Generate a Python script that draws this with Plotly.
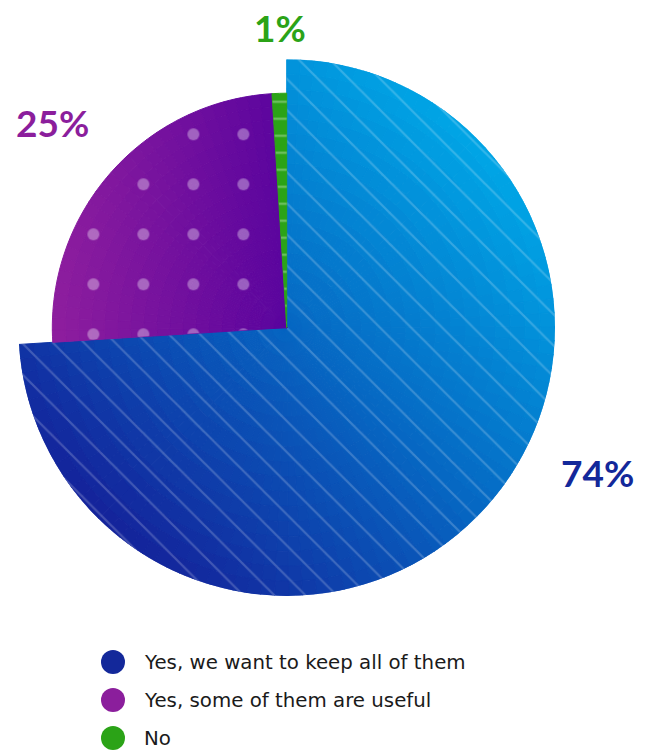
import numpy as np
import plotly.graph_objects as go

# ---------------- data ----------------
categories = ["Yes, we want to keep all of them", "Yes, some of them are useful", "No"]
values = [74, 25, 1]
label_texts = [f"{v}%" for v in values]

# ---------------- style ----------------
W, H = 652, 751
radii = [1.0, 0.8736, 0.8736]
main_colors = ["#13289A", "#8B1E9C", "#2BA317"]
grad_stops = [
    [(-1.0, "#14229A"), (0.0, "#0666C2"), (1.0, "#00A6E6")],
    [(0.0, "#8E1E9E"), (1.0, "#5A049E")],
    [(0.0, "#2BA317"), (1.0, "#2BA317")],
]
patterns = [
    dict(shape="\\", size=22, solidity=0.1, fgopacity=0.2),
    dict(shape=".", size=50, solidity=0.045, fgopacity=0.35),
    dict(shape="-", size=17, solidity=0.12, fgopacity=0.35),
]
label_pos = [(597, 472), (52, 122), (280, 27)]


def hex2rgb(h):
    h = h.lstrip("#")
    return np.array([int(h[i:i + 2], 16) for i in (0, 2, 4)], dtype=float)


def grad(stops, t):
    ts = [s[0] for s in stops]
    t = min(max(t, ts[0]), ts[-1])
    for (t0, c0), (t1, c1) in zip(stops[:-1], stops[1:]):
        if t <= t1:
            f = 0 if t1 == t0 else (t - t0) / (t1 - t0)
            c = hex2rgb(c0) * (1 - f) + hex2rgb(c1) * f
            return "rgb(%d,%d,%d)" % tuple(np.round(c))
    c = hex2rgb(stops[-1][1])
    return "rgb(%d,%d,%d)" % tuple(c)


total = sum(values)
widths = [v / total * 360 for v in values]
starts = list(np.cumsum([0] + widths[:-1]))

fig = go.Figure()

for i, (cat, v) in enumerate(zip(categories, values)):
    R = radii[i]
    na = max(1, int(round(widths[i] / 3)))
    nr = 18
    dth = widths[i] / na
    thetas, bases, rs, ws, cols = [], [], [], [], []
    for j in range(na):
        th = starts[i] + (j + 0.5) * dth
        for k in range(nr):
            r0 = k * R / nr
            r1 = (k + 1) * R / nr
            rc = (r0 + r1) / 2
            x = rc * np.sin(np.radians(th))
            y = rc * np.cos(np.radians(th))
            if i == 0:
                t = (x + y) / np.sqrt(2)
            elif i == 1:
                t = (x + R) / R
            else:
                t = 0
            thetas.append(th)
            bases.append(r0)
            rs.append(r1 - r0)
            ws.append(dth)
            cols.append(grad(grad_stops[i], t))
    fig.add_trace(go.Barpolar(
        r=rs, base=bases, theta=thetas, width=ws,
        marker=dict(color=cols, line=dict(color=cols, width=1)),
        name=cat, hoverinfo="skip", showlegend=False,
    ))
    p = patterns[i]
    fig.add_trace(go.Barpolar(
        r=[R], base=[0], theta=[starts[i] + widths[i] / 2], width=[widths[i]],
        marker=dict(
            color="rgba(0,0,0,0)", line=dict(width=0),
            pattern=dict(shape=p["shape"], size=p["size"], solidity=p["solidity"],
                         fgcolor="white", fgopacity=p["fgopacity"],
                         bgcolor="rgba(0,0,0,0)", fillmode="overlay"),
        ),
        hoverinfo="skip", showlegend=False,
    ))

# percentage labels
for i, txt in enumerate(label_texts):
    px, py = label_pos[i]
    fig.add_annotation(
        x=px / W, y=1 - py / H, xref="paper", yref="paper",
        text=txt, showarrow=False, xanchor="center", yanchor="middle",
        font=dict(family="Lato", size=37, color=main_colors[i], weight="bold"),
    )

# legend (manual)
leg_x, leg_y0, leg_dy, dot_r = 113, 662, 38, 12
for i, cat in enumerate(categories):
    cy = leg_y0 + i * leg_dy
    fig.add_shape(
        type="circle", xref="paper", yref="paper",
        x0=(leg_x - dot_r) / W, x1=(leg_x + dot_r) / W,
        y0=1 - (cy + dot_r) / H, y1=1 - (cy - dot_r) / H,
        fillcolor=main_colors[i], line=dict(width=0),
    )
    fig.add_annotation(
        x=142 / W, y=1 - cy / H, xref="paper", yref="paper",
        text=cat, showarrow=False, xanchor="left", yanchor="middle",
        font=dict(family="DejaVu Sans", size=19.8, color="#1a1a1a"),
    )

cx, cy0, Rpx = 286.7, 327.6, 268.3
fig.update_layout(
    width=W, height=H,
    margin=dict(l=0, r=0, t=0, b=0),
    paper_bgcolor="white", plot_bgcolor="white",
    showlegend=False,
    polar=dict(
        domain=dict(x=[(cx - Rpx) / W, (cx + Rpx) / W], y=[1 - (cy0 + Rpx) / H, 1 - (cy0 - Rpx) / H]),
        bgcolor="rgba(0,0,0,0)",
        barmode="overlay", bargap=0,
        radialaxis=dict(range=[0, 1], visible=False, showgrid=False),
        angularaxis=dict(rotation=90, direction="clockwise", visible=False, showgrid=False),
    ),
)

fig.write_html("out.html")
